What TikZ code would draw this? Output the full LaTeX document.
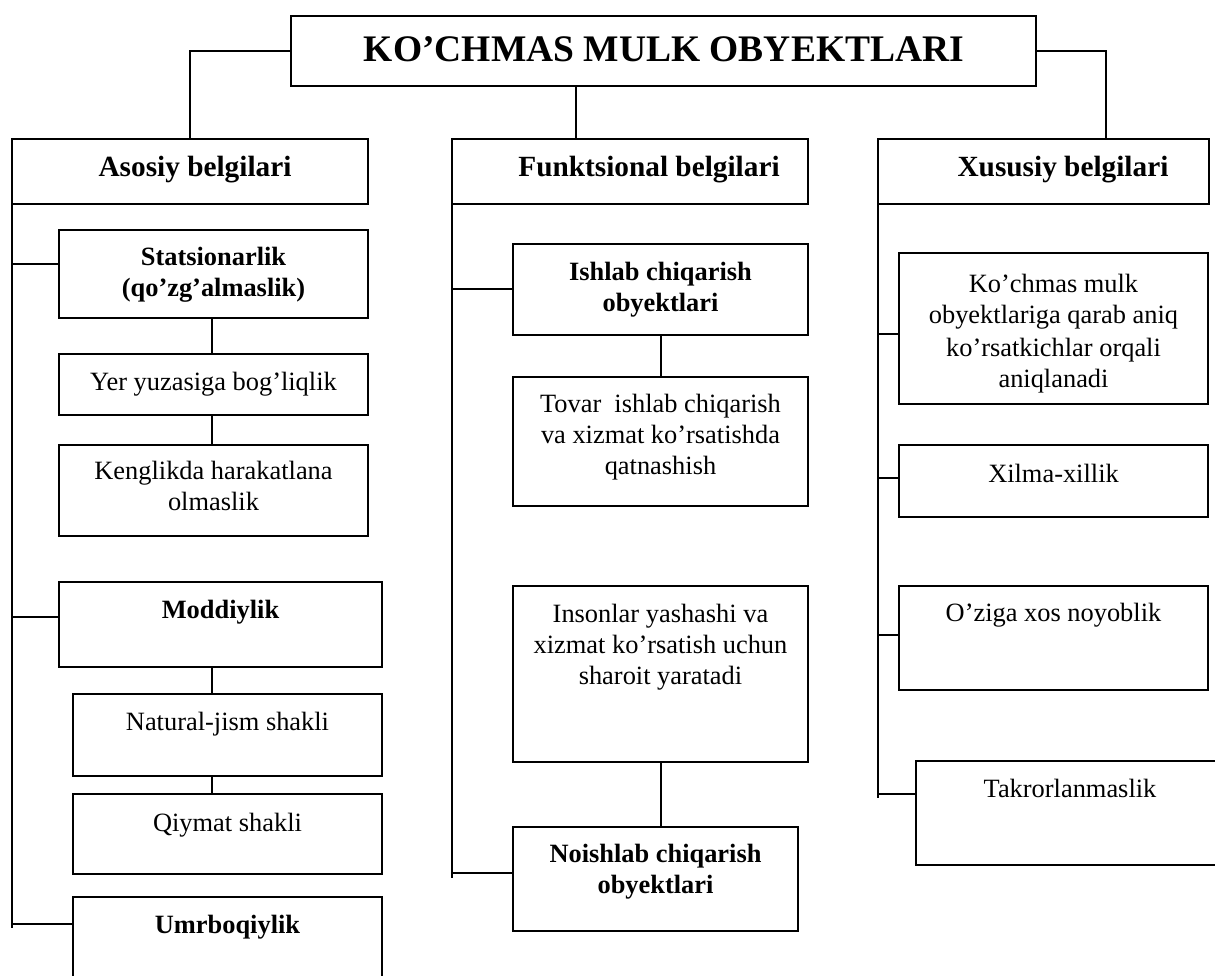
\documentclass[tikz,border=0pt]{standalone}
\usepackage{fontspec}
\setmainfont{Liberation Serif}
\usetikzlibrary{calc}
% centred lines; the node's baseline is that of the first line
\newcommand\mylines[1]{\vtop{\halign{\hfil##\hfil\cr#1\crcr}}}

\tikzset{
  box/.style={draw, rectangle, line width=2pt, inner sep=0pt, outer sep=0pt},
  conn/.style={line width=2pt},
  txt/.style={anchor=base, inner sep=0pt, font=\fontsize{26.4}{31}\selectfont},
  btxt/.style={anchor=base, inner sep=0pt, font=\fontsize{26.4}{31}\selectfont\bfseries},
  head/.style={anchor=base, inner sep=0pt, font=\fontsize{29.3}{35}\selectfont\bfseries},
  ttl/.style={anchor=base, inner sep=0pt, font=\fontsize{37.5}{44}\selectfont\bfseries}
}

\begin{document}
\begin{tikzpicture}[x=1pt, y=-1pt]
\useasboundingbox (0,0) rectangle (1215,976);
\clip (0,0) rectangle (1215,976);

% ---- boxes ----
\node[box, minimum width=745pt, minimum height=70pt]  (title)  at (663.5,51)   {};
\node[box, minimum width=356pt, minimum height=65pt]  (asosiy) at (190,171.5)  {};
\node[box, minimum width=356pt, minimum height=65pt]  (funk)   at (630,171.5)  {};
\node[box, minimum width=331pt, minimum height=65pt]  (xus)    at (1043.5,171.5) {};

\node[box, minimum width=309pt, minimum height=88pt]  (stat)   at (213.5,274)  {};
\node[box, minimum width=309pt, minimum height=61pt]  (yer)    at (213.5,384.5) {};
\node[box, minimum width=309pt, minimum height=91pt]  (keng)   at (213.5,490.5) {};
\node[box, minimum width=323pt, minimum height=85pt]  (mod)    at (220.5,624.5) {};
\node[box, minimum width=309pt, minimum height=82pt]  (nat)    at (227.5,735)  {};
\node[box, minimum width=309pt, minimum height=80pt]  (qiy)    at (227.5,834)  {};
\node[box, minimum width=309pt, minimum height=100pt] (umr)    at (227.5,947)  {};

\node[box, minimum width=295pt, minimum height=91pt]  (ishlab) at (660.5,289.5) {};
\node[box, minimum width=295pt, minimum height=129pt] (tovar)  at (660.5,441.5) {};
\node[box, minimum width=295pt, minimum height=176pt] (inson)  at (660.5,674)  {};
\node[box, minimum width=285pt, minimum height=104pt] (noish)  at (655.5,879)  {};

\node[box, minimum width=309pt, minimum height=151pt] (kochm)  at (1053.5,328.5) {};
\node[box, minimum width=309pt, minimum height=72pt]  (xilma)  at (1053.5,481)  {};
\node[box, minimum width=309pt, minimum height=104pt] (oziga)  at (1053.5,638)  {};
\node[box, minimum width=308pt, minimum height=104pt] (takr)   at (1070,813)   {};

% ---- texts ----
\node[ttl]  (t-title)  at (664,62)    {KO’CHMAS MULK OBYEKTLARI};
\node[head] (t-asosiy) at (195,177)   {Asosiy belgilari};
\node[head] (t-funk)   at (649,177)   {Funktsional belgilari};
\node[head] (t-xus)    at (1063,177)  {Xususiy belgilari};

\node[btxt] (t-stat)   at (213.5,266) {\mylines{Statsionarlik\cr(qo’zg’almaslik)}};
\node[txt]  (t-yer)    at (213.5,390) {Yer yuzasiga bog’liqlik};
\node[txt]  (t-keng)   at (213.5,479) {\mylines{Kenglikda harakatlana\cr olmaslik}};
\node[btxt] (t-mod)    at (220.5,618) {Moddiylik};
\node[txt]  (t-nat)    at (227.5,730) {Natural-jism shakli};
\node[txt]  (t-qiy)    at (227.5,831) {Qiymat shakli};
\node[btxt] (t-umr)    at (227.5,933) {Umrboqiylik};

\node[btxt] (t-ishlab) at (660.5,280) {\mylines{Ishlab chiqarish\cr obyektlari}};
\node[txt]  (t-tovar)  at (660.5,412) {\mylines{Tovar~ ishlab chiqarish\cr va xizmat koʼrsatishda\cr qatnashish}};
\node[txt]  (t-inson)  at (660.5,622) {\mylines{Insonlar yashashi va\cr xizmat koʼrsatish uchun\cr sharoit yaratadi}};
\node[btxt] (t-noish)  at (655.5,862) {\mylines{Noishlab chiqarish\cr obyektlari}};

\node[txt, font=\fontsize{26.4}{32}\selectfont] (t-kochm) at (1053.5,292)
  {\mylines{Ko’chmas mulk\cr obyektlariga qarab aniq\cr koʼrsatkichlar orqali\cr aniqlanadi}};
\node[txt]  (t-xilma)  at (1053.5,482) {Xilma-xillik};
\node[txt]  (t-oziga)  at (1053.5,621) {O’ziga xos noyoblik};
\node[txt]  (t-takr)   at (1070,797)   {Takrorlanmaslik};

% ---- title to the three headings ----
\coordinate (tmid) at ($(title.south west)!0.3826!(title.south east)$);
\coordinate (xtop) at ($(xus.north west)!0.689!(xus.north east)$);
\draw[conn] (title.west) -| (asosiy.north);
\draw[conn] (title.east) -| (xtop);
\draw[conn] (tmid) -- (tmid |- funk.north);

% ---- left column ----
\draw[conn] (asosiy.south west) -- ([yshift=19pt]umr.west -| asosiy.south west);
\draw[conn] ([yshift=10pt]stat.west) -- ([yshift=10pt]stat.west -| asosiy.west);
\draw[conn] ([yshift=7.5pt]mod.west) -- ([yshift=7.5pt]mod.west -| asosiy.west);
\draw[conn] ([yshift=23pt]umr.west) -- ([yshift=23pt]umr.west -| asosiy.west);
\draw[conn] ([xshift=-1.5pt]stat.south) -- ([xshift=-1.5pt]stat.south |- yer.north);
\draw[conn] ([xshift=-1.5pt]yer.south) -- ([xshift=-1.5pt]yer.south |- keng.north);
\draw[conn] ([xshift=-8.5pt]mod.south) -- ([xshift=-8.5pt]mod.south |- nat.north);
\draw[conn] ([xshift=-15.5pt]nat.south) -- ([xshift=-15.5pt]nat.south |- qiy.north);

% ---- middle column ----
\draw[conn] (funk.south west) -- ([yshift=1pt]noish.west -| funk.south west);
\draw[conn] (ishlab.west) -- (ishlab.west -| funk.west);
\draw[conn] ([yshift=6pt]noish.west) -- ([yshift=6pt]noish.west -| funk.west);
\draw[conn] (ishlab.south) -- (ishlab.south |- tovar.north);
\draw[conn] (inson.south) -- (inson.south |- noish.north);

% ---- right column ----
\draw[conn] (xus.south west) -- ([yshift=15pt]takr.west -| xus.south west);
\draw[conn] ([yshift=-5.5pt]kochm.west) -- ([yshift=-5.5pt]kochm.west -| xus.west);
\draw[conn] ([yshift=3pt]xilma.west) -- ([yshift=3pt]xilma.west -| xus.west);
\draw[conn] ([yshift=3pt]oziga.west) -- ([yshift=3pt]oziga.west -| xus.west);
\draw[conn] ([yshift=19pt]takr.west) -- ([yshift=19pt]takr.west -| xus.west);
\end{tikzpicture}
\end{document}
